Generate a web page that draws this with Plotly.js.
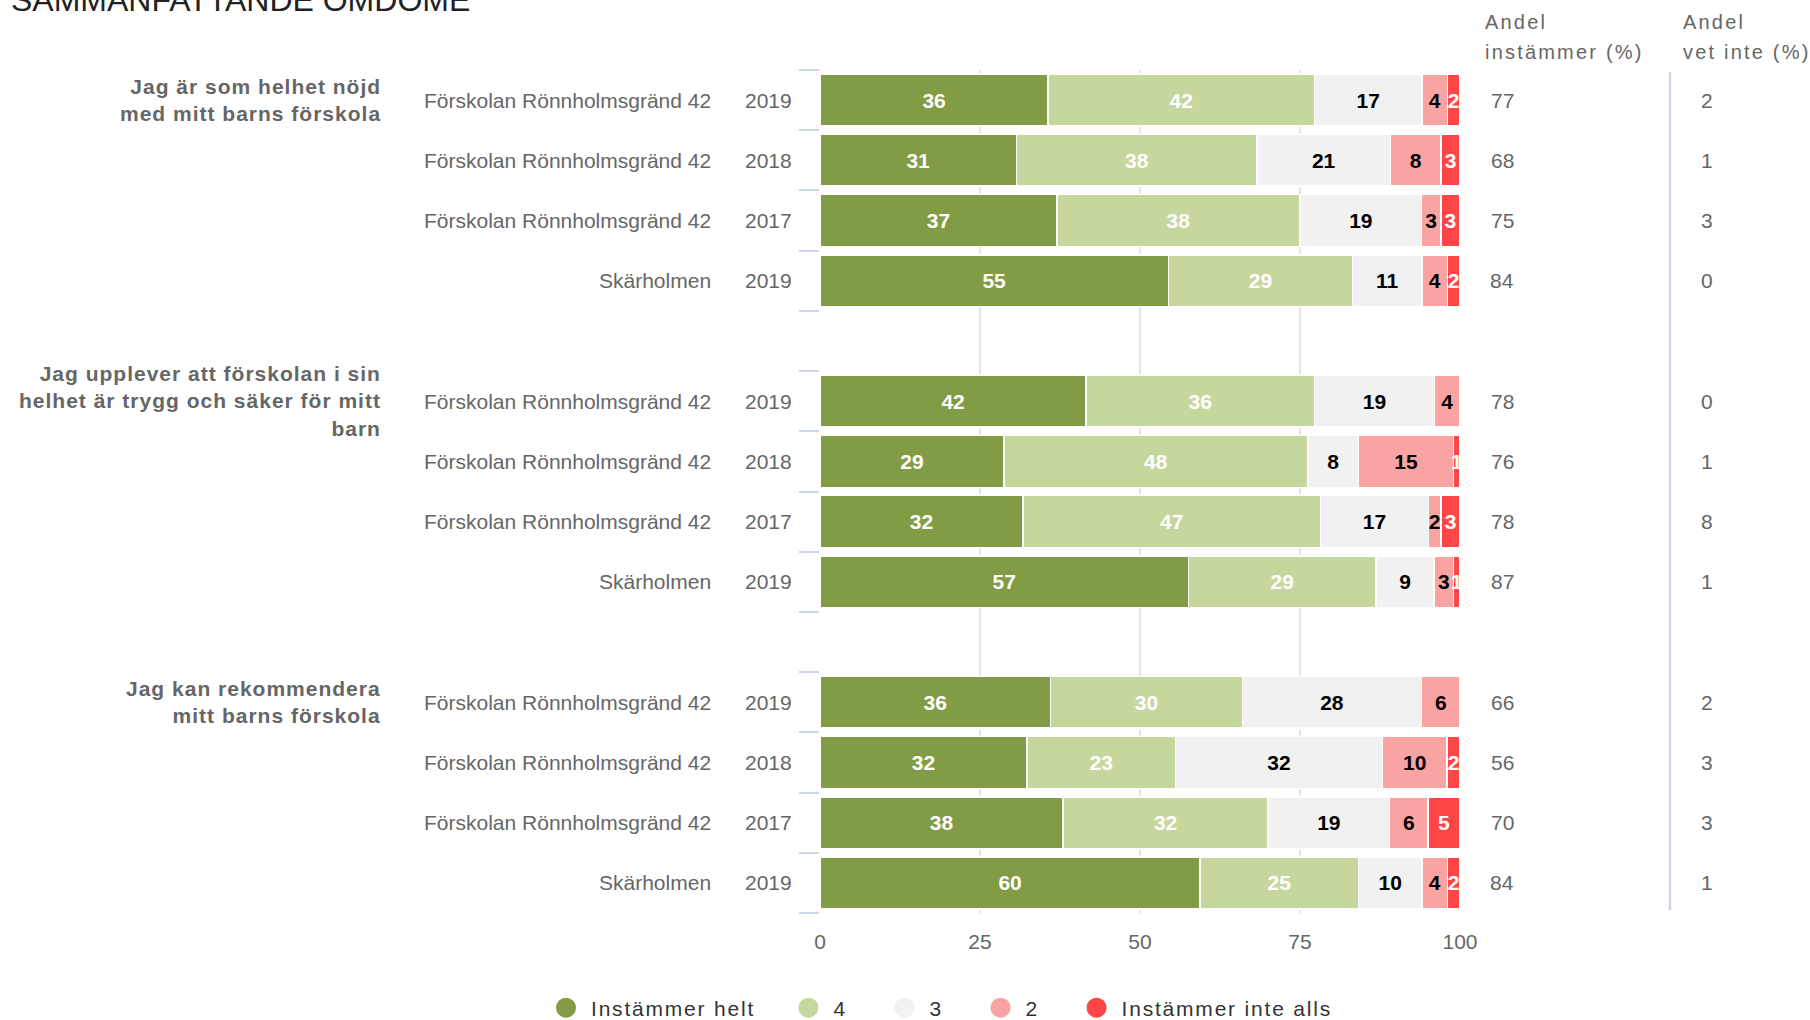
<!DOCTYPE html>
<html><head><meta charset="utf-8">
<script src="https://cdn.plot.ly/plotly-3.0.1.min.js"></script>
<style>html,body{margin:0;padding:0;background:#fff}</style>
</head><body><div id="chart" style="width:1810px;height:1020px"></div>
<script>
// ---- data ----
const chartTitle = "SAMMANFATTANDE OMDÖME";
const questions = [
  "Jag är som helhet nöjd<br>med mitt barns förskola",
  "Jag upplever att förskolan i sin<br>helhet är trygg och säker för mitt<br>barn",
  "Jag kan rekommendera<br>mitt barns förskola"
];
const units = ["Förskolan Rönnholmsgränd 42","Förskolan Rönnholmsgränd 42","Förskolan Rönnholmsgränd 42","Skärholmen"];
const years = ["2019","2018","2017","2019"];
const levelNames = ["Instämmer helt","4","3","2","Instämmer inte alls"];
const instammerHelt  = [36,31,37,55, 42,29,32,57, 36,32,38,60];
const level4         = [42,38,38,29, 36,48,47,29, 30,23,32,25];
const level3         = [17,21,19,11, 19, 8,17, 9, 28,32,19,10];
const level2         = [ 4, 8, 3, 4,  4,15, 2, 3,  6,10, 6, 4];
const instammerInte  = [ 2, 3, 3, 2,  0, 1, 3, 1,  0, 2, 5, 2];
const andelInstammer = [77,68,75,84, 78,76,78,87, 66,56,70,84];
const andelVetInte   = [ 2, 1, 3, 0,  0, 1, 8, 1,  2, 3, 3, 1];
const colHeaders = ["Andel<br>instämmer (%)","Andel<br>vet inte (%)"];
const xTicks = [0,25,50,75,100];

// ---- styles ----
const FONT = "Liberation Sans, Arial, sans-serif";
const colors = ["#829c45","#c5d79d","#f1f1f1","#faa3a3","#ff4545"];
const textColors = ["#ffffff","#ffffff","#000000","#000000","#ffffff"];
const GRAY = "#666666";
const legendPads = ["&nbsp;&nbsp;&nbsp;&nbsp;", "&nbsp;&nbsp;&nbsp;&nbsp;&#8201;", "&nbsp;&nbsp;&nbsp;&nbsp;&#8201;", "&nbsp;&nbsp;&nbsp;&nbsp;&#8201;", ""];

const series = [instammerHelt, level4, level3, level2, instammerInte];
const rowsPerGroup = units.length;
const nRows = instammerHelt.length;
const pos = [];
for (let i = 0; i < nRows; i++) {
  const g = Math.floor(i / rowsPerGroup), r = i % rowsPerGroup;
  pos.push(g * (rowsPerGroup + 1) + r);
}
const totals = pos.map((_, i) => series.reduce((s, arr) => s + arr[i], 0));

const traces = [];
series.forEach((arr, k) => {
  traces.push({
    type: "bar", orientation: "h",
    x: arr.map((v, i) => v / totals[i] * 100),
    y: pos,
    width: 0.86,
    text: arr.map(v => String(v)),
    textposition: "inside",
    insidetextanchor: "middle",
    constraintext: "none",
    textangle: 0,
    textfont: {family: FONT, size: 21, weight: "bold", color: textColors[k]},
    marker: {color: colors[k], line: {color: "#ffffff", width: 1.5}},
    showlegend: false,
    hoverinfo: "skip",
    name: levelNames[k]
  });
});
// legend entries (circles)
levelNames.forEach((n, k) => {
  traces.push({
    type: "scatter", mode: "markers", x: [null], y: [null],
    name: '<span style="letter-spacing:1.8px">' + n + '</span>' + legendPads[k],
    marker: {symbol: "circle", size: 16, color: colors[k], line: {color: colors[k], width: 4}},
    showlegend: true, hoverinfo: "skip"
  });
});

// pixel helpers for paper coords
const L = 820, R = 1460, T = 70, B = 913;
const px2x = p => (p - L) / (R - L);
const px2y = p => (B - p) / (B - T);

const annotations = [];
annotations.push({
  text: chartTitle, xref: "paper", yref: "paper",
  x: px2x(9), y: px2y(0), xanchor: "left", yanchor: "middle",
  showarrow: false, font: {family: FONT, size: 32, color: "#222222"}
});
questions.forEach((q, g) => {
  annotations.push({
    text: '<span style="letter-spacing:1.0px">' + q + '</span>',
    xref: "paper", yref: "y",
    x: px2x(383), y: g * (rowsPerGroup + 1), xanchor: "right", yanchor: "middle", align: "right",
    showarrow: false, font: {family: FONT, size: 21, weight: "bold", color: GRAY}
  });
});
pos.forEach((p, i) => {
  const r = i % rowsPerGroup;
  annotations.push({
    text: units[r], xref: "paper", yref: "y", x: px2x(713), y: p,
    xanchor: "right", yanchor: "middle", showarrow: false,
    font: {family: FONT, size: 21, color: GRAY}
  });
  annotations.push({
    text: years[r], xref: "paper", yref: "y", x: px2x(794), y: p,
    xanchor: "right", yanchor: "middle", showarrow: false,
    font: {family: FONT, size: 21, color: GRAY}
  });
  annotations.push({
    text: String(andelInstammer[i]), xref: "paper", yref: "y", x: px2x(1502), y: p,
    xanchor: "center", yanchor: "middle", showarrow: false,
    font: {family: FONT, size: 21, color: GRAY}
  });
  annotations.push({
    text: String(andelVetInte[i]), xref: "paper", yref: "y", x: px2x(1707), y: p,
    xanchor: "center", yanchor: "middle", showarrow: false,
    font: {family: FONT, size: 21, color: GRAY}
  });
});
const headerX = [1483, 1681];
colHeaders.forEach((h, c) => {
  h.split("<br>").forEach((line, j) => {
    annotations.push({
      text: '<span style="letter-spacing:2.2px">' + line + '</span>',
      xref: "paper", yref: "paper", x: px2x(headerX[c]), y: px2y(22 + 30 * j),
      xanchor: "left", yanchor: "middle", showarrow: false,
      font: {family: FONT, size: 20, color: GRAY}
    });
  });
});

const yTickVals = [];
for (let v = -0.5; v <= pos[pos.length - 1] + 0.5; v += 1) yTickVals.push(v);

const layout = {
  width: 1810, height: 1020,
  paper_bgcolor: "#ffffff", plot_bgcolor: "#ffffff",
  margin: {l: L, r: 1810 - R, t: T, b: 1020 - B, autoexpand: false},
  barmode: "stack",
  font: {family: FONT, color: GRAY},
  xaxis: {
    range: [0, 100], tickvals: xTicks, ticktext: xTicks.map(String),
    showgrid: true, gridcolor: "#e6e6e6", gridwidth: 2,
    zeroline: false, showline: false, ticks: "",
    ticklabelstandoff: 14,
    tickfont: {family: FONT, size: 21, color: GRAY}, fixedrange: true
  },
  yaxis: {
    range: [pos[pos.length - 1] + 0.5, -0.5],
    tickvals: yTickVals, showticklabels: false,
    ticks: "outside", ticklen: 20, tickwidth: 2, tickcolor: "#ccd6eb",
    showgrid: false, zeroline: false, showline: false, fixedrange: true
  },
  shapes: [{
    type: "line", xref: "paper", yref: "y",
    x0: px2x(1670), x1: px2x(1670), y0: -0.47, y1: pos[pos.length - 1] + 0.45,
    line: {color: "#ccd6eb", width: 2.5}
  }],
  legend: {
    orientation: "h", traceorder: "normal", itemwidth: 40,
    x: px2x(541), xanchor: "left", y: px2y(1008), yanchor: "middle",
    font: {family: FONT, size: 21, color: "#333333"}, itemsizing: "trace",
    bgcolor: "rgba(0,0,0,0)"
  },
  annotations: annotations,
  showlegend: true
};

Plotly.newPlot("chart", traces, layout, {displayModeBar: false, staticPlot: true});
</script></body></html>
